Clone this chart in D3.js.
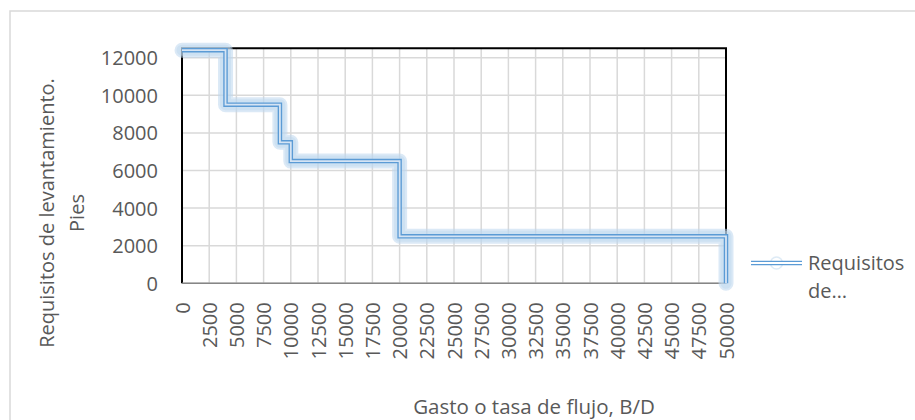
<!DOCTYPE html>
<html><head><meta charset="utf-8">
<script src="https://cdn.jsdelivr.net/npm/d3@7"></script>
<style>body{margin:0;background:#fff;}svg{display:block;}text{font-family:"Open Sans",sans-serif;fill:#595959;}</style>
</head><body><svg id="c" width="915" height="420"></svg>
<script>
const flow = [0, 4000, 4000, 9000, 9000, 10000, 10000, 20000, 20000, 50000, 50000];
const lift = [12400, 12400, 9500, 9500, 7500, 7500, 6500, 6500, 2500, 2500, 0];
const xTicks = d3.range(0, 50001, 2500);
const yTicks = [0, 2000, 4000, 6000, 8000, 10000, 12000];
const seriesName = ["Requisitos", "de…"];
const xTitle = "Gasto o tasa de flujo, B/D";
const yTitle = ["Requisitos de levantamiento.", "Pies"];

const svg = d3.select("#c");
const L = 182, R = 726, T = 48.3, B = 283.3;
const x = d3.scaleLinear().domain([0, 50000]).range([L, R]);
const y = d3.scaleLinear().domain([0, 12500]).range([B, T]);

// outer chart border
svg.append("rect").attr("x", 10).attr("y", 11).attr("width", 1000).attr("height", 500)
  .attr("fill", "none").attr("stroke", "#d9d9d9").attr("stroke-width", 1.5);

// gridlines
const g = svg.append("g");
g.selectAll(".vg").data(xTicks).join("line")
  .attr("x1", d => x(d)).attr("x2", d => x(d)).attr("y1", T).attr("y2", B)
  .attr("stroke", "#d9d9d9").attr("stroke-width", 1.5);
g.selectAll(".hg").data(yTicks).join("line")
  .attr("x1", L).attr("x2", R).attr("y1", d => y(d)).attr("y2", d => y(d))
  .attr("stroke", "#d9d9d9").attr("stroke-width", 1.5);

// plot border: top, left, right black; bottom axis gray
svg.append("path").attr("d", `M${L},${B}V${T}H${R}V${B}`).attr("fill", "none")
  .attr("stroke", "#000").attr("stroke-width", 2);
svg.append("line").attr("x1", L).attr("x2", R).attr("y1", B).attr("y2", B)
  .attr("stroke", "#868686").attr("stroke-width", 1.5);

// axes labels
const xAxis = d3.axisBottom(x).tickValues(xTicks).tickSize(0).tickFormat(d3.format("d"));
const xa = svg.append("g").attr("transform", `translate(0,${B})`).call(xAxis);
xa.select(".domain").remove();
xa.selectAll("text").attr("font-size", 20).attr("font-family", "Open Sans").attr("fill", "#595959")
  .attr("transform", "rotate(-90)").attr("text-anchor", "end")
  .attr("x", -19).attr("y", 0).attr("dy", "0.35em");

const yAxis = d3.axisLeft(y).tickValues(yTicks).tickSize(0).tickFormat(d3.format("d"));
const ya = svg.append("g").attr("transform", `translate(${L},0)`).call(yAxis);
ya.select(".domain").remove();
ya.selectAll("text").attr("font-size", 20).attr("font-family", "Open Sans").attr("fill", "#595959")
  .attr("x", -24).attr("dy", "0.35em");

// titles
svg.append("text").attr("x", 534).attr("y", 414).attr("text-anchor", "middle")
  .attr("font-size", 20.5).text(xTitle);
const yt = svg.append("text").attr("transform", "translate(0,213) rotate(-90)")
  .attr("text-anchor", "middle").attr("font-size", 20);
yt.append("tspan").attr("x", 0).attr("y", 54).text(yTitle[0]);
yt.append("tspan").attr("x", 0).attr("y", 84).text(yTitle[1]);

// series line
const pts = flow.map((f, i) => [f, lift[i]]);
const line = d3.line().x(d => x(d[0])).y(d => y(d[1]));
const dd = line(pts);
svg.append("path").attr("d", dd).attr("fill", "none").attr("stroke", "#bdd7ee")
  .attr("stroke-opacity", 0.55).attr("stroke-width", 15)
  .attr("stroke-linejoin", "round").attr("stroke-linecap", "round");
svg.append("path").attr("d", dd).attr("fill", "none").attr("stroke", "#bdd7ee")
  .attr("stroke-opacity", 0.45).attr("stroke-width", 11)
  .attr("stroke-linejoin", "round").attr("stroke-linecap", "round");
svg.append("path").attr("d", dd).attr("fill", "none").attr("stroke", "#5b9bd5")
  .attr("stroke-width", 4.5);
svg.append("path").attr("d", dd).attr("fill", "none").attr("stroke", "#d5e4f4")
  .attr("stroke-width", 1.8);

// legend
const lx1 = 751, lx2 = 802, ly = 263;
svg.append("circle").attr("cx", (lx1 + lx2) / 2).attr("cy", ly).attr("r", 6)
  .attr("fill", "none").attr("stroke", "#bdd7ee").attr("stroke-opacity", 0.5).attr("stroke-width", 1.5);
svg.append("line").attr("x1", lx1).attr("x2", lx2).attr("y1", ly).attr("y2", ly)
  .attr("stroke", "#5b9bd5").attr("stroke-width", 4.5);
svg.append("line").attr("x1", lx1).attr("x2", lx2).attr("y1", ly).attr("y2", ly)
  .attr("stroke", "#ffffff").attr("stroke-width", 1.8);
svg.append("text").attr("x", 808).attr("y", 270).attr("font-size", 20).text(seriesName[0]);
svg.append("text").attr("x", 808).attr("y", 298).attr("font-size", 20).text(seriesName[1]);
</script></body></html>
